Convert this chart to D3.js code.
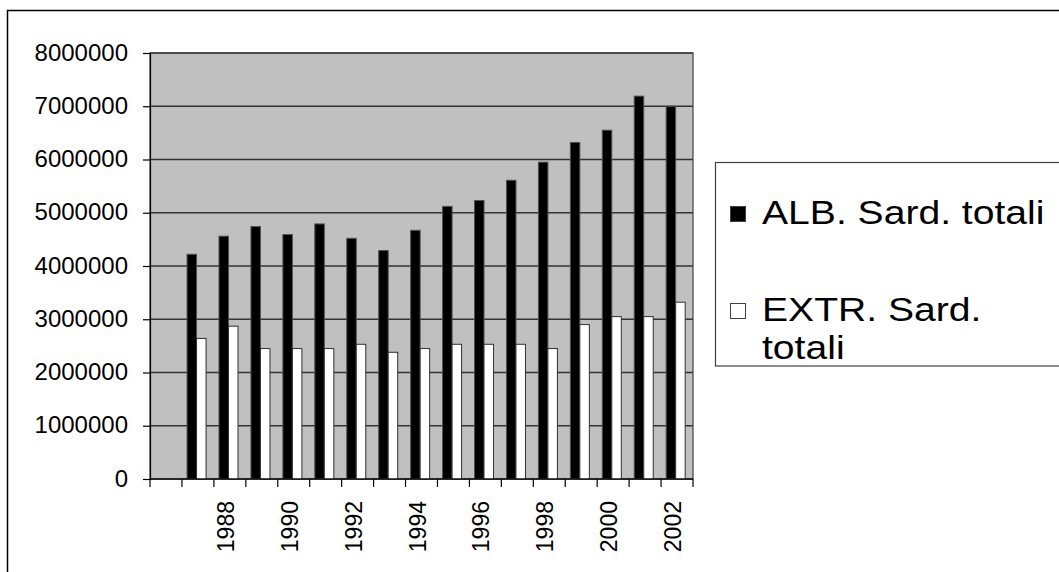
<!DOCTYPE html>
<html>
<head>
<meta charset="utf-8">
<script src="https://cdn.jsdelivr.net/npm/d3@7"></script>
<style>
  html, body { margin: 0; padding: 0; background: #ffffff; }
  svg { display: block; }
  text { font-family: Arial, "Liberation Sans", sans-serif; fill: #000; }
</style>
</head>
<body>
<svg id="chart" width="1059" height="572"></svg>
<script>
// Categories: a leading empty slot, then the years 1987–2002
const categories = ["", "1987", "1988", "1989", "1990", "1991", "1992", "1993", "1994",
                    "1995", "1996", "1997", "1998", "1999", "2000", "2001", "2002"];
// Every other category carries a label
const labelledCategories = ["", "1988", "1990", "1992", "1994", "1996", "1998", "2000", "2002"];

const seriesNames = ["ALB. Sard. totali", "EXTR. Sard. totali"];
const albValues  = [null, 4220000, 4560000, 4740000, 4590000, 4790000, 4520000, 4290000, 4670000,
                    5120000, 5230000, 5610000, 5950000, 6320000, 6550000, 7190000, 7000000];
const extrValues = [null, 2640000, 2870000, 2450000, 2450000, 2450000, 2530000, 2380000, 2450000,
                    2530000, 2530000, 2530000, 2450000, 2900000, 3050000, 3050000, 3320000];
const yTicks = [0, 1000000, 2000000, 3000000, 4000000, 5000000, 6000000, 7000000, 8000000];

const svg = d3.select("#chart");

// Outer chart frame (runs past the right and bottom edges)
svg.append("rect")
  .attr("x", 7.5).attr("y", 10.5)
  .attr("width", 1100).attr("height", 600)
  .attr("fill", "#fff").attr("stroke", "#000").attr("stroke-width", 1.5);

const plot = { left: 150, right: 693, top: 53, bottom: 479 };

const x0 = d3.scaleBand().domain(categories).range([plot.left, plot.right]).padding(0);
const bw = x0.bandwidth();
const x1 = d3.scaleBand().domain([0, 1]).range([bw * 0.16, bw * 0.755]).padding(0);
const y = d3.scaleLinear().domain([0, 8000000]).range([plot.bottom, plot.top]);

// Plot background
svg.append("rect")
  .attr("x", plot.left).attr("y", plot.top)
  .attr("width", plot.right - plot.left).attr("height", plot.bottom - plot.top)
  .attr("fill", "#c0c0c0");

// Horizontal gridlines
svg.append("g").selectAll("line")
  .data(yTicks)
  .join("line")
  .attr("x1", plot.left).attr("x2", plot.right)
  .attr("y1", d => y(d)).attr("y2", d => y(d))
  .attr("stroke", "#333").attr("stroke-width", 1.3);

// Plot border
svg.append("rect")
  .attr("x", plot.left).attr("y", plot.top)
  .attr("width", plot.right - plot.left).attr("height", plot.bottom - plot.top)
  .attr("fill", "none").attr("stroke", "#404040").attr("stroke-width", 1.2);

// Bars
const rows = categories.map((c, i) => ({ cat: c, values: [albValues[i], extrValues[i]] }));
const fills = ["#000000", "#ffffff"];
const strokes = ["#505050", "#303030"];

const groups = svg.append("g").selectAll("g")
  .data(rows.filter(r => r.values[0] != null))
  .join("g")
  .attr("transform", d => `translate(${x0(d.cat)},0)`);

groups.selectAll("rect")
  .data(d => d.values.map((v, k) => ({ k, v })))
  .join("rect")
  .attr("x", d => x1(d.k))
  .attr("width", x1.bandwidth())
  .attr("y", d => y(d.v))
  .attr("height", d => y(0) - y(d.v))
  .attr("fill", d => fills[d.k])
  .attr("stroke", d => strokes[d.k])
  .attr("stroke-width", 1);

// Y axis
const yAxis = svg.append("g")
  .attr("transform", `translate(${plot.left},0)`)
  .call(d3.axisLeft(y).tickValues(yTicks).tickSize(7).tickPadding(15).tickFormat(d3.format("d")));
yAxis.select(".domain").attr("stroke", "#000").attr("stroke-width", 1.2);
yAxis.selectAll(".tick line").attr("stroke", "#000").attr("stroke-width", 1.2);
yAxis.selectAll("text").attr("font-size", 24).attr("dy", "0.3em")
  .style("font-family", "Arial, 'Liberation Sans', sans-serif").attr("fill", "#000");

// X axis: baseline and ticks at category boundaries
const xAxisG = svg.append("g").attr("transform", `translate(0,${plot.bottom})`);
xAxisG.append("line")
  .attr("x1", plot.left).attr("x2", plot.right)
  .attr("y1", 0).attr("y2", 0)
  .attr("stroke", "#000").attr("stroke-width", 1.2);
const boundaries = categories.map(c => x0(c)).concat([x0(categories[categories.length - 1]) + bw]);
xAxisG.selectAll("line.bt")
  .data(boundaries)
  .join("line")
  .attr("class", "bt")
  .attr("x1", d => d).attr("x2", d => d)
  .attr("y1", 0).attr("y2", 8)
  .attr("stroke", "#000").attr("stroke-width", 1.2);

// X labels, rotated
const xLabels = svg.append("g")
  .attr("transform", `translate(0,${plot.bottom})`)
  .call(d3.axisBottom(x0).tickValues(labelledCategories).tickSize(0).tickFormat(d => d));
xLabels.select(".domain").remove();
xLabels.selectAll("text")
  .attr("font-size", 23)
  .style("font-family", "Arial, 'Liberation Sans', sans-serif")
  .attr("fill", "#000")
  .attr("text-anchor", "end")
  .attr("transform", "rotate(-90)")
  .attr("x", -22)
  .attr("y", 4)
  .attr("dy", 0);

// Legend
const legend = svg.append("g");
legend.append("rect")
  .attr("x", 715.5).attr("y", 162.5)
  .attr("width", 400).attr("height", 203.5)
  .attr("fill", "#fff").attr("stroke", "#404040").attr("stroke-width", 1.2);

const legendFont = 34;
const legendStretch = 1.15;
const legendTextX = 762;
const legendBaselines = [224, 321];
const lineGap = 38;
const maxTextWidth = 250;

seriesNames.forEach((name, i) => {
  const base = legendBaselines[i];
  legend.append("rect")
    .attr("x", 730.5).attr("y", base - 17.5)
    .attr("width", 15).attr("height", 15)
    .attr("fill", fills[i]).attr("stroke", "#404040").attr("stroke-width", 1);
  const t = legend.append("g")
    .attr("transform", `translate(${legendTextX},${base}) scale(${legendStretch},1)`)
    .append("text")
    .attr("font-size", legendFont);
  // wrap words that do not fit on one line
  const words = name.split(" ");
  let line = [];
  let tspan = t.append("tspan").attr("x", 0).attr("y", 0);
  let lineNo = 0;
  words.forEach(w => {
    line.push(w);
    tspan.text(line.join(" "));
    if (tspan.node().getComputedTextLength() > maxTextWidth && line.length > 1) {
      line.pop();
      tspan.text(line.join(" "));
      line = [w];
      lineNo += 1;
      tspan = t.append("tspan").attr("x", 0).attr("y", lineNo * lineGap).text(w);
    }
  });
});
</script>
</body>
</html>
